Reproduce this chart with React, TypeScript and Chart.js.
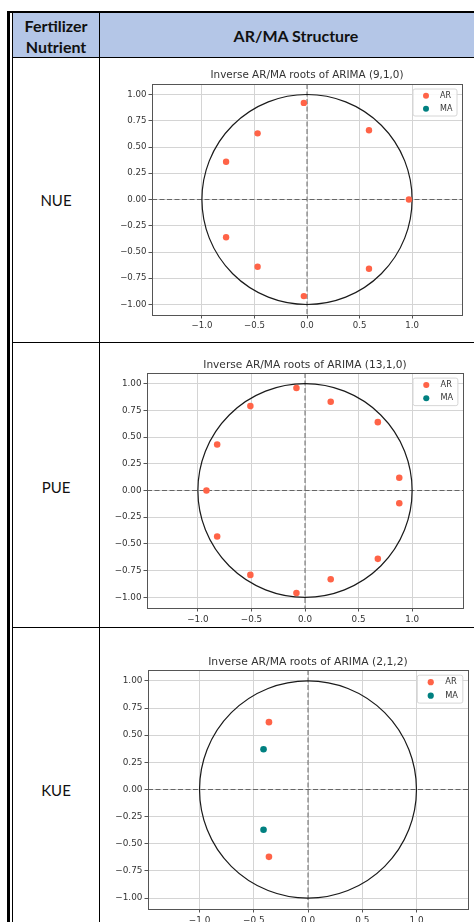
import React, { useEffect, useRef } from "react";
import { Chart, registerables } from "chart.js";

Chart.register(...registerables);

// ---------- data ----------
const nutrients = ["NUE", "PUE", "KUE"];
const chartTitles = [
  "Inverse AR/MA roots of ARIMA (9,1,0)",
  "Inverse AR/MA roots of ARIMA (13,1,0)",
  "Inverse AR/MA roots of ARIMA (2,1,2)",
];
const seriesNames = ["AR", "MA"];
const xTickValues = [-1, -0.5, 0, 0.5, 1];
const yTickValues = [-1, -0.75, -0.5, -0.25, 0, 0.25, 0.5, 0.75, 1];
const unitCircleRadius = 1;

const nueArReal = [-0.03, 0.59, -0.47, -0.77, 0.97, -0.77, -0.47, 0.59, -0.03];
const nueArImag = [0.92, 0.66, 0.63, 0.36, 0.0, -0.36, -0.64, -0.66, -0.92];
const nueMaReal: number[] = [];
const nueMaImag: number[] = [];

const pueArReal = [-0.08, 0.24, -0.51, 0.68, -0.82, 0.88, -0.92, 0.88, -0.82, 0.68, -0.51, 0.24, -0.08];
const pueArImag = [0.96, 0.83, 0.79, 0.64, 0.43, 0.12, 0.0, -0.12, -0.43, -0.64, -0.79, -0.83, -0.96];
const pueMaReal: number[] = [];
const pueMaImag: number[] = [];

const kueArReal = [-0.36, -0.36];
const kueArImag = [0.62, -0.62];
const kueMaReal = [-0.41, -0.41];
const kueMaImag = [0.37, -0.37];

const arRoots = [
  [nueArReal, nueArImag],
  [pueArReal, pueArImag],
  [kueArReal, kueArImag],
];
const maRoots = [
  [nueMaReal, nueMaImag],
  [pueMaReal, pueMaImag],
  [kueMaReal, kueMaImag],
];

// ---------- layout / style (page pixels) ----------
const CANVAS_LEFT = 100;
const CANVAS_W = 374;
const chartBoxes = [
  { top: 58, height: 284, plotLeft: 152, plotTop: 84, plotW: 310, plotH: 231, titleY: 75.5, s: 1.0 },
  { top: 343, height: 284, plotLeft: 147, plotTop: 373, plotW: 316, plotH: 235, titleY: 365, s: 1.02 },
  { top: 628, height: 330, plotLeft: 148, plotTop: 670, plotW: 320, plotH: 239, titleY: 662, s: 1.035 },
];
const nutrientLabelY = [200, 487, 790];
const AR_COLOR = "#FF6347";
const MA_COLOR = "#008080";
const FONT = "'DejaVu Sans', sans-serif";

const fmt = (v: number, d: number) => {
  const t = Math.abs(v).toFixed(d);
  return v < -1e-9 ? "\u2212" + t : t;
};

const decorPlugin = {
  id: "unitCircleDecor",
  beforeDatasetsDraw(chart: any) {
    const { ctx, chartArea, scales } = chart;
    const xs = scales.x;
    const ys = scales.y;
    const x0 = xs.getPixelForValue(0);
    const y0 = ys.getPixelForValue(0);
    ctx.save();
    ctx.beginPath();
    ctx.rect(chartArea.left, chartArea.top, chartArea.right - chartArea.left, chartArea.bottom - chartArea.top);
    ctx.clip();
    ctx.strokeStyle = "#666";
    ctx.lineWidth = 1;
    ctx.setLineDash([5, 2.5]);
    ctx.beginPath();
    ctx.moveTo(x0, chartArea.top);
    ctx.lineTo(x0, chartArea.bottom);
    ctx.moveTo(chartArea.left, y0);
    ctx.lineTo(chartArea.right, y0);
    ctx.stroke();
    ctx.setLineDash([]);
    ctx.strokeStyle = "#1a1a1a";
    ctx.lineWidth = 1.2;
    ctx.beginPath();
    const rx = xs.getPixelForValue(unitCircleRadius) - x0;
    const ry = y0 - ys.getPixelForValue(unitCircleRadius);
    ctx.ellipse(x0, y0, rx, ry, 0, 0, Math.PI * 2);
    ctx.stroke();
    ctx.restore();
    ctx.save();
    ctx.strokeStyle = "#555";
    ctx.lineWidth = 1;
    ctx.strokeRect(
      Math.round(chartArea.left) + 0.5,
      Math.round(chartArea.top) + 0.5,
      Math.round(chartArea.right - chartArea.left),
      Math.round(chartArea.bottom - chartArea.top)
    );
    ctx.restore();
  },
};

const innerLegendPlugin = {
  id: "innerLegend",
  afterDraw(chart: any, _args: any, opts: any) {
    const { ctx, chartArea } = chart;
    const s = opts.s || 1;
    const w = 44 * s;
    const h = 27 * s;
    const x = chartArea.right - 5 * s - w;
    const y = chartArea.top + 5 * s;
    ctx.save();
    ctx.beginPath();
    const r = 2;
    ctx.moveTo(x + r, y);
    ctx.lineTo(x + w - r, y);
    ctx.quadraticCurveTo(x + w, y, x + w, y + r);
    ctx.lineTo(x + w, y + h - r);
    ctx.quadraticCurveTo(x + w, y + h, x + w - r, y + h);
    ctx.lineTo(x + r, y + h);
    ctx.quadraticCurveTo(x, y + h, x, y + h - r);
    ctx.lineTo(x, y + r);
    ctx.quadraticCurveTo(x, y, x + r, y);
    ctx.closePath();
    ctx.fillStyle = "rgba(255,255,255,0.85)";
    ctx.fill();
    ctx.strokeStyle = "#d6d6d6";
    ctx.lineWidth = 1;
    ctx.stroke();
    chart.data.datasets.forEach((ds: any, i: number) => {
      const cy = y + (6.8 + i * 13) * s;
      ctx.beginPath();
      ctx.fillStyle = ds.backgroundColor;
      ctx.arc(x + 13 * s, cy, 3 * s, 0, Math.PI * 2);
      ctx.fill();
      ctx.fillStyle = "#333";
      ctx.font = `${8 * s}px ${FONT}`;
      ctx.textBaseline = "middle";
      ctx.textAlign = "left";
      ctx.fillText(ds.label, x + 27 * s, cy);
    });
    ctx.restore();
  },
};

function RootChart({ index }: { index: number }) {
  const ref = useRef<HTMLCanvasElement | null>(null);
  const box = chartBoxes[index];
  useEffect(() => {
    if (!ref.current) return;
    const s = box.s;
    const Y_AXIS_W = 46;
    const X_AXIS_H = 22;
    const plotLeftRel = box.plotLeft - CANVAS_LEFT;
    const plotTopRel = box.plotTop - box.top;
    const titleYRel = box.titleY - box.top;
    const titleSize = 10.4 * s;
    const titleLH = titleSize * 1.2;
    const padTop = titleYRel - titleLH / 2;
    const titleBottomPad = plotTopRel - (padTop + titleLH);
    const padLeft = plotLeftRel - Y_AXIS_W;
    const padRight = CANVAS_W - (plotLeftRel + box.plotW);
    const padBottom = box.height - (plotTopRel + box.plotH) - X_AXIS_H;
    const tickFont = { family: FONT, size: 8.6 * s };
    const [arRe, arIm] = arRoots[index];
    const [maRe, maIm] = maRoots[index];
    const chart = new Chart(ref.current, {
      type: "scatter",
      data: {
        datasets: [
          {
            label: seriesNames[0],
            data: arRe.map((v, i) => ({ x: v, y: arIm[i] })),
            backgroundColor: AR_COLOR,
            borderColor: AR_COLOR,
            pointRadius: 3.2 * s,
            pointHoverRadius: 3.2 * s,
            pointBorderWidth: 0,
          },
          {
            label: seriesNames[1],
            data: maRe.map((v, i) => ({ x: v, y: maIm[i] })),
            backgroundColor: MA_COLOR,
            borderColor: MA_COLOR,
            pointRadius: 3.2 * s,
            pointHoverRadius: 3.2 * s,
            pointBorderWidth: 0,
          },
        ],
      },
      options: {
        animation: false,
        responsive: false,
        maintainAspectRatio: false,
        events: [],
        layout: { padding: { left: padLeft, right: padRight, top: padTop, bottom: padBottom } },
        plugins: {
          legend: { display: false },
          tooltip: { enabled: false },
          title: {
            display: true,
            text: chartTitles[index],
            fullSize: false,
            color: "#333",
            font: { family: FONT, size: titleSize, weight: "normal", lineHeight: 1.2 },
            padding: { top: 0, bottom: titleBottomPad },
          },
          innerLegend: { s },
        } as any,
        scales: {
          x: {
            type: "linear",
            min: -1.475,
            max: 1.475,
            afterBuildTicks: (sc: any) => {
              sc.ticks = xTickValues.map((v) => ({ value: v }));
            },
            afterFit: (sc: any) => {
              sc.height = X_AXIS_H;
            },
            ticks: {
              callback: (v: any) => fmt(Number(v), 1),
              font: tickFont,
              color: "#333",
              padding: 2.5,
              maxRotation: 0,
              autoSkip: false,
            },
            grid: { color: "#d4d4d4", lineWidth: 1, tickColor: "#555", tickLength: 3.5, drawTicks: true },
            border: { display: false },
          },
          y: {
            type: "linear",
            min: -1.1,
            max: 1.1,
            afterBuildTicks: (sc: any) => {
              sc.ticks = yTickValues.map((v) => ({ value: v }));
            },
            afterFit: (sc: any) => {
              sc.width = Y_AXIS_W;
            },
            ticks: {
              callback: (v: any) => fmt(Number(v), 2),
              font: tickFont,
              color: "#333",
              padding: 2,
              autoSkip: false,
            },
            grid: { color: "#d4d4d4", lineWidth: 1, tickColor: "#555", tickLength: 3.5, drawTicks: true },
            border: { display: false },
          },
        },
      },
      plugins: [decorPlugin, innerLegendPlugin],
    } as any);
    return () => chart.destroy();
  }, [index]);
  return (
    <canvas
      ref={ref}
      width={CANVAS_W}
      height={box.height}
      style={{ position: "absolute", left: CANVAS_LEFT, top: box.top, width: CANVAS_W, height: box.height, display: "block" }}
    />
  );
}

const line = (left: number, top: number, width: number, height: number) => (
  <div style={{ position: "absolute", left, top, width, height, background: "#000" }} />
);

export default function App() {
  const cellFont = "Lato, Carlito, 'Open Sans', sans-serif";
  return (
    <div
      style={{
        position: "absolute",
        left: 0,
        top: 0,
        width: 474,
        height: 922,
        overflow: "hidden",
        background: "#fff",
        fontFamily: cellFont,
        color: "#111",
      }}
    >
      <div style={{ position: "absolute", left: 13, top: 13, width: 461, height: 44, background: "#B4C6E7" }} />
      {chartBoxes.map((_, i) => (
        <RootChart key={i} index={i} />
      ))}
      {line(7, 11, 467, 2)}
      {line(7, 11, 3, 911)}
      {line(12, 11, 1, 911)}
      {line(12, 57, 462, 1)}
      {line(99, 11, 1, 911)}
      {line(12, 342, 462, 1)}
      {line(12, 627, 462, 1)}
      <div
        style={{
          position: "absolute",
          left: 13,
          top: 15,
          width: 86,
          textAlign: "center",
          fontWeight: 700,
          fontSize: 16,
          lineHeight: "21px",
        }}
      >
        Fertilizer
        <br />
        Nutrient
      </div>
      <div
        style={{
          position: "absolute",
          left: 100,
          top: 25,
          width: 392,
          textAlign: "center",
          fontWeight: 700,
          fontSize: 16,
          lineHeight: "21px",
        }}
      >
        AR/MA Structure
      </div>
      {nutrients.map((n, i) => (
        <div
          key={n}
          style={{
            position: "absolute",
            left: 13,
            top: nutrientLabelY[i] - 10,
            width: 86,
            textAlign: "center",
            fontSize: 15,
            lineHeight: "20px",
          }}
        >
          {n}
        </div>
      ))}
    </div>
  );
}
